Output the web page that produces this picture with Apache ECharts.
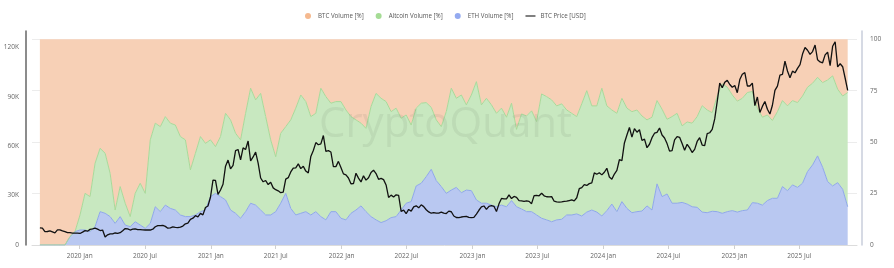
<!DOCTYPE html>
<html>
<head>
<meta charset="utf-8">
<title>BTC / Altcoin / ETH volume share</title>
<script src="https://cdn.jsdelivr.net/npm/echarts@6/dist/echarts.min.js"></script>
<style>
    html, body { margin: 0; padding: 0; background: #fff; }
    #volume_share { width: 894px; height: 268px; }
</style>
</head>
<body>
<div id="volume_share"></div>
<script>
// BTC price [K USD], one value per week starting 2019-09-12
var priceK = [
    10.4, 10.2, 8.1, 8.2, 8.6, 8.0, 7.4, 9.2, 9.2, 8.6, 8.1, 7.5, 7.5, 7.2, 7.2, 7.2,
    7.0, 7.8, 8.7, 8.4, 9.5, 9.8, 10.2, 9.6, 8.8, 9.1, 4.9, 6.2, 6.8, 6.8, 7.3, 7.1, 7.5, 8.7,
    10.0, 9.8, 9.1, 9.6, 9.8, 9.3, 9.4, 9.2, 9.1, 9.2, 9.1, 9.6, 11.1, 11.8, 11.8, 11.9, 11.3,
    10.2, 10.4, 11.0, 10.7, 10.6, 10.9, 11.5, 12.9, 13.3, 15.6, 16.3, 17.8, 17.1, 19.2, 18.3, 22.8, 23.7, 29.0,
    39.4, 39.2, 30.8, 33.4, 36.9, 47.9, 51.6, 46.3, 48.4, 57.3, 58.0, 51.7, 59.0, 58.0, 63.2, 51.1, 53.5,
    56.4, 49.7, 40.7, 38.4, 39.2, 36.7, 38.1, 34.7, 33.6, 32.9, 31.8, 32.1, 40.0, 40.9, 44.4, 46.7, 46.9,
    49.3, 46.4, 47.8, 44.9, 43.8, 53.8, 57.4, 62.2, 60.9, 61.4, 66.5, 56.9, 57.3, 56.5, 47.6, 47.6, 50.8, 47.1,
    43.2, 42.6, 40.7, 37.2, 37.3, 43.6, 40.6, 38.3, 42.0, 39.4, 40.9, 44.0, 45.5, 43.4, 39.9, 40.5, 39.7,
    36.5, 28.9, 30.3, 29.2, 30.5, 30.1, 20.4, 21.2, 19.0, 21.6, 20.6, 23.2, 23.8, 22.6, 24.4, 23.3, 21.4,
    20.1, 19.3, 19.7, 19.4, 19.4, 20.0, 19.4, 19.1, 20.6, 20.2, 17.6, 16.7, 16.6, 17.0, 17.2, 17.4, 16.8, 16.6,
    16.8, 18.8, 21.1, 23.1, 23.7, 21.6, 23.5, 23.9, 23.5, 20.3, 25.0, 28.3, 28.0, 28.0, 30.4, 28.2, 29.5,
    29.0, 26.9, 26.8, 26.5, 26.8, 26.5, 25.1, 30.0, 30.1, 29.9, 31.4, 29.9, 29.3, 29.2, 29.4, 26.6, 26.2, 26.0,
    26.2, 26.5, 26.6, 27.0, 27.4, 26.8, 28.7, 34.2, 34.9, 36.7, 36.2, 37.3, 37.7, 43.8, 43.0, 43.9, 42.6,
    44.2, 46.6, 41.3, 40.0, 43.1, 45.3, 51.8, 51.3, 62.0, 66.8, 71.4, 65.5, 70.7, 68.5, 70.0, 63.5, 64.3,
    59.1, 61.2, 65.2, 67.9, 68.4, 71.1, 66.8, 65.0, 61.6, 57.0, 57.3, 63.9, 65.8, 65.4, 61.7, 57.6, 61.2, 59.0,
    56.2, 58.1, 62.9, 65.2, 60.7, 60.3, 67.6, 68.2, 70.2, 76.6, 87.2, 98.3, 95.6, 98.8, 100.0, 97.5, 95.8,
    96.9, 92.5, 100.5, 103.7, 104.7, 96.6, 96.6, 98.3, 84.7, 89.9, 80.5, 84.2, 87.2, 82.5, 79.6, 84.9, 93.9,
    96.5, 103.2, 103.6, 111.7, 105.7, 101.6, 105.6, 104.6, 107.3, 109.6, 116.0, 120.0, 118.3, 115.8,
    117.5, 121.5, 112.5, 111.2, 110.7, 115.5, 117.1, 109.0, 120.7, 123.5, 108.2, 110.1, 108.3, 101.3, 94.0
];

// volume share [%], one value every two weeks starting 2019-09-12
var ethVol = [
    0, 0, 0, 0, 0, 0, 4.1, 6.5, 7.3, 7.3, 6.5, 8.9, 16.2, 15.4, 13.8, 10.5, 13.8, 9.7, 8.9, 11.3,
    9.7, 8.1, 10.5, 18.6, 16.2, 19.4, 17.8, 17.0, 14.6, 13.8, 13.8, 14.6, 16.2, 17.0, 23.5, 25.1, 23.5, 21.9, 17.0, 15.4,
    13.0, 16.2, 20.3, 19.4, 17.0, 14.6, 14.6, 16.2, 20.3, 25.1, 17.8, 14.6, 15.4, 16.2, 14.6, 16.2, 13.8, 12.2, 16.2, 16.2,
    13.0, 12.2, 15.4, 17.0, 19.0, 16.2, 13.8, 12.2, 10.9, 11.8, 13.3, 13.8, 17.0, 20.3, 21.1, 28.7, 30.0, 33.2, 36.8, 31.3,
    28.4, 25.1, 26.7, 28.0, 25.4, 26.7, 26.4, 21.9, 20.3, 20.3, 19.4, 18.6, 19.4, 18.6, 21.6, 18.6, 17.5, 16.2, 16.2, 14.6,
    13.0, 12.2, 11.3, 12.2, 12.5, 14.6, 14.6, 15.1, 14.1, 16.0, 17.0, 16.0, 14.1, 16.7, 19.9, 16.2, 21.1, 17.8, 15.7, 16.2,
    16.5, 19.0, 17.0, 29.7, 23.5, 24.8, 20.3, 20.3, 20.7, 19.9, 18.6, 18.3, 16.0, 15.7, 16.4, 16.2, 15.4, 16.2, 16.7, 16.0,
    16.7, 17.0, 20.6, 20.3, 19.4, 21.6, 22.7, 22.7, 28.4, 26.4, 29.2, 28.0, 30.0, 35.7, 38.9, 43.3, 37.8, 30.8, 28.7, 30.3,
    27.1, 18.6
];
var altVol = [
    0, 0, 0, 0, 0, 0, 0, 0, 7.3, 17.8, 17.0, 30.8, 30.8, 29.2, 21.0, 6.5, 14.6, 10.6, 4.9, 13.8,
    20.3, 17.0, 40.6, 40.6, 41.3, 43.0, 41.4, 41.3, 38.1, 37.3, 22.7, 30.0, 36.5, 32.4, 27.6, 22.7, 29.2, 42.1, 43.8, 38.9,
    38.1, 47.8, 55.9, 51.1, 56.7, 47.8, 36.5, 26.7, 34.0, 32.4, 43.0, 51.9, 57.5, 53.5, 47.8, 47.8, 62.4, 59.9, 52.7, 53.5,
    56.7, 53.4, 47.0, 43.8, 40.2, 40.5, 53.5, 61.5, 60.4, 57.9, 51.5, 52.7, 44.6, 42.9, 37.2, 37.8, 38.9, 36.0, 30.1, 29.5,
    29.1, 39.7, 49.5, 43.3, 47.5, 41.4, 46.5, 57.5, 47.8, 51.0, 48.7, 45.4, 47.1, 43.5, 47.3, 37.6, 46.2, 46.5, 49.0, 45.4,
    60.4, 59.9, 59.2, 55.4, 56.1, 51.0, 49.4, 47.3, 54.5, 59.0, 50.6, 51.6, 62.1, 50.9, 45.7, 47.8, 50.2, 48.7, 49.1, 49.4,
    46.2, 41.8, 45.1, 40.5, 42.5, 36.3, 42.1, 43.7, 37.2, 39.9, 40.6, 44.1, 51.7, 49.9, 47.9, 56.2, 62.9, 60.5, 56.2, 53.9,
    54.6, 57.1, 54.0, 46.2, 42.7, 41.6, 37.8, 42.1, 41.8, 41.2, 41.0, 41.2, 42.4, 41.0, 39.7, 38.2, 41.1, 49.4, 53.5, 45.4,
    45.3, 55.5
];
var btcVol = [
    100, 100, 100, 100, 100, 100, 95.9, 93.5, 85.4, 74.9, 76.5, 60.3, 53.0, 55.4, 65.2, 83.0, 71.6, 79.7, 86.2, 74.9,
    70.0, 74.9, 48.9, 40.8, 42.5, 37.6, 40.8, 41.7, 47.3, 48.9, 63.5, 55.4, 47.3, 50.6, 48.9, 52.2, 47.3, 36.0, 39.2, 45.7,
    48.9, 36.0, 23.8, 29.5, 26.3, 37.6, 48.9, 57.1, 45.7, 42.5, 39.2, 33.5, 27.1, 30.3, 37.6, 36.0, 23.8, 27.9, 31.1, 30.3,
    30.3, 34.4, 37.6, 39.2, 40.8, 43.3, 32.7, 26.3, 28.7, 30.3, 35.2, 33.5, 38.4, 36.8, 41.7, 33.5, 31.1, 30.8, 33.1, 39.2,
    42.5, 35.2, 23.8, 28.7, 27.1, 31.9, 27.1, 20.6, 31.9, 28.7, 31.9, 36.0, 33.5, 37.9, 31.1, 43.8, 36.3, 37.3, 34.8, 40.0,
    26.6, 27.9, 29.5, 32.4, 31.4, 34.4, 36.0, 37.6, 31.4, 25.0, 32.4, 32.4, 23.8, 32.4, 34.4, 36.0, 28.7, 33.5, 35.2, 34.4,
    37.3, 39.2, 37.9, 29.8, 34.0, 38.9, 37.6, 36.0, 42.1, 40.2, 40.8, 37.6, 32.3, 34.4, 35.7, 27.6, 21.7, 23.3, 27.1, 30.1,
    28.7, 25.9, 25.4, 33.5, 37.9, 36.8, 39.5, 35.2, 29.8, 32.4, 29.8, 30.8, 27.6, 23.3, 21.4, 18.5, 21.1, 19.8, 17.8, 24.3,
    27.6, 25.9
];

var tickDates = ['2020-01', '2020-07', '2021-01', '2021-07', '2022-01', '2022-07',
    '2023-01', '2023-07', '2024-01', '2024-07', '2025-01', '2025-07'];
var monthNames = ['Jan', 'Feb', 'Mar', 'Apr', 'May', 'Jun', 'Jul', 'Aug', 'Sep', 'Oct', 'Nov', 'Dec'];

function day(y, m, d) {
    return new Date(y, m, d).getTime();
}
function pairs(values, stepDays) {
    var out = [];
    for (var i = 0; i < values.length; i++) {
        out.push([day(2019, 8, 12 + i * stepDays), values[i]]);
    }
    return out;
}
var ticks = tickDates.map(function (s) {
    var p = s.split('-');
    return day(+p[0], +p[1] - 1, 1);
});
var xMin = day(2019, 7, 21);
var xMax = day(2025, 11, 9);

var font = '"Open Sans", sans-serif';
var myChart = echarts.init(document.getElementById('volume_share'));
option = {
    animation: false,
    textStyle: { fontFamily: font },
    legend: {
        left: 300,
        top: 8,
        itemWidth: 10,
        itemHeight: 6,
        itemGap: 12,
        textStyle: { fontSize: 6.2, color: '#555' },
        data: [
            {name: 'BTC Volume [%]', icon: 'circle'},
            {name: 'Altcoin Volume [%]', icon: 'circle'},
            {name: 'ETH Volume [%]', icon: 'circle'},
            {name: 'BTC Price [USD]', icon: 'path://M0,0H22V3H0Z', itemStyle: { color: '#444' }}
        ]
    },
    grid: {
        left: 32,
        right: 37,
        top: 31,
        bottom: 23
    },
    xAxis: [
        {
            // visible axis: ticks and labels on the first of January and July
            type: 'value',
            min: xMin,
            max: xMax,
            axisLine: { lineStyle: { color: '#dcdcdc' } },
            axisTick: { show: true, length: 4, customValues: ticks, lineStyle: { color: '#d0d0d0' } },
            axisLabel: {
                customValues: ticks,
                margin: 8,
                fontSize: 6.5,
                color: '#666',
                formatter: function (v) {
                    var d = new Date(v);
                    return d.getFullYear() + ' ' + monthNames[d.getMonth()];
                }
            },
            splitLine: { show: false }
        },
        {
            // time axis the series sit on (keeps the stacking on the value dimension)
            type: 'time',
            min: xMin,
            max: xMax,
            show: false
        }
    ],
    yAxis: [
        {
            type: 'value',
            position: 'left',
            min: 0,
            max: 130,
            interval: 30,
            offset: 6,
            axisLine: { show: true, lineStyle: { color: '#666', width: 1.5 } },
            axisTick: { show: false },
            splitLine: { show: false },
            axisLabel: {
                margin: 7,
                fontSize: 6.5,
                color: '#666',
                showMaxLabel: false,
                formatter: function (v) { return v === 0 ? '0' : v + 'K'; }
            }
        },
        {
            type: 'value',
            position: 'right',
            min: 0,
            max: 104,
            interval: 25,
            offset: 5,
            axisLine: { show: true, lineStyle: { color: '#c9cedb', width: 1.5 } },
            axisTick: { show: false },
            splitLine: { show: true, showMaxLine: false, lineStyle: { color: '#ececec' } },
            axisLabel: { margin: 8, fontSize: 6.5, color: '#666', showMaxLabel: false }
        }
    ],
    graphic: [
        {
            type: 'text',
            left: 319,
            top: 104,
            z: 4,
            silent: true,
            style: {
                text: 'CryptoQuant',
                font: '42px "Open Sans", sans-serif',
                fill: 'rgba(80,90,80,0.09)'
            }
        }
    ],
    series: [
        {
            name: 'ETH Volume [%]',
            type: 'line',
            xAxisIndex: 1,
            yAxisIndex: 1,
            stack: 'share',
            showSymbol: false,
            data: pairs(ethVol, 14),
            itemStyle: { color: '#94aaf0' },
            lineStyle: { color: '#8fa7ea', width: 1 },
            areaStyle: { color: '#b9c8f1', opacity: 1 }
        },
        {
            name: 'Altcoin Volume [%]',
            type: 'line',
            xAxisIndex: 1,
            yAxisIndex: 1,
            stack: 'share',
            showSymbol: false,
            data: pairs(altVol, 14),
            itemStyle: { color: '#a5dc95' },
            lineStyle: { color: '#a8da9a', width: 1 },
            areaStyle: { color: '#c8e8c0', opacity: 1 }
        },
        {
            name: 'BTC Volume [%]',
            type: 'line',
            xAxisIndex: 1,
            yAxisIndex: 1,
            stack: 'share',
            showSymbol: false,
            data: pairs(btcVol, 14),
            itemStyle: { color: '#f5b98f' },
            lineStyle: { width: 0 },
            areaStyle: { color: '#f7d0b6', opacity: 1 }
        },
        {
            name: 'BTC Price [USD]',
            type: 'line',
            xAxisIndex: 1,
            yAxisIndex: 0,
            z: 5,
            symbol: 'none',
            data: pairs(priceK, 7),
            itemStyle: { color: '#111' },
            lineStyle: { color: '#111', width: 1.3 }
        }
    ]
};
myChart.setOption(option);
</script>
</body>
</html>
